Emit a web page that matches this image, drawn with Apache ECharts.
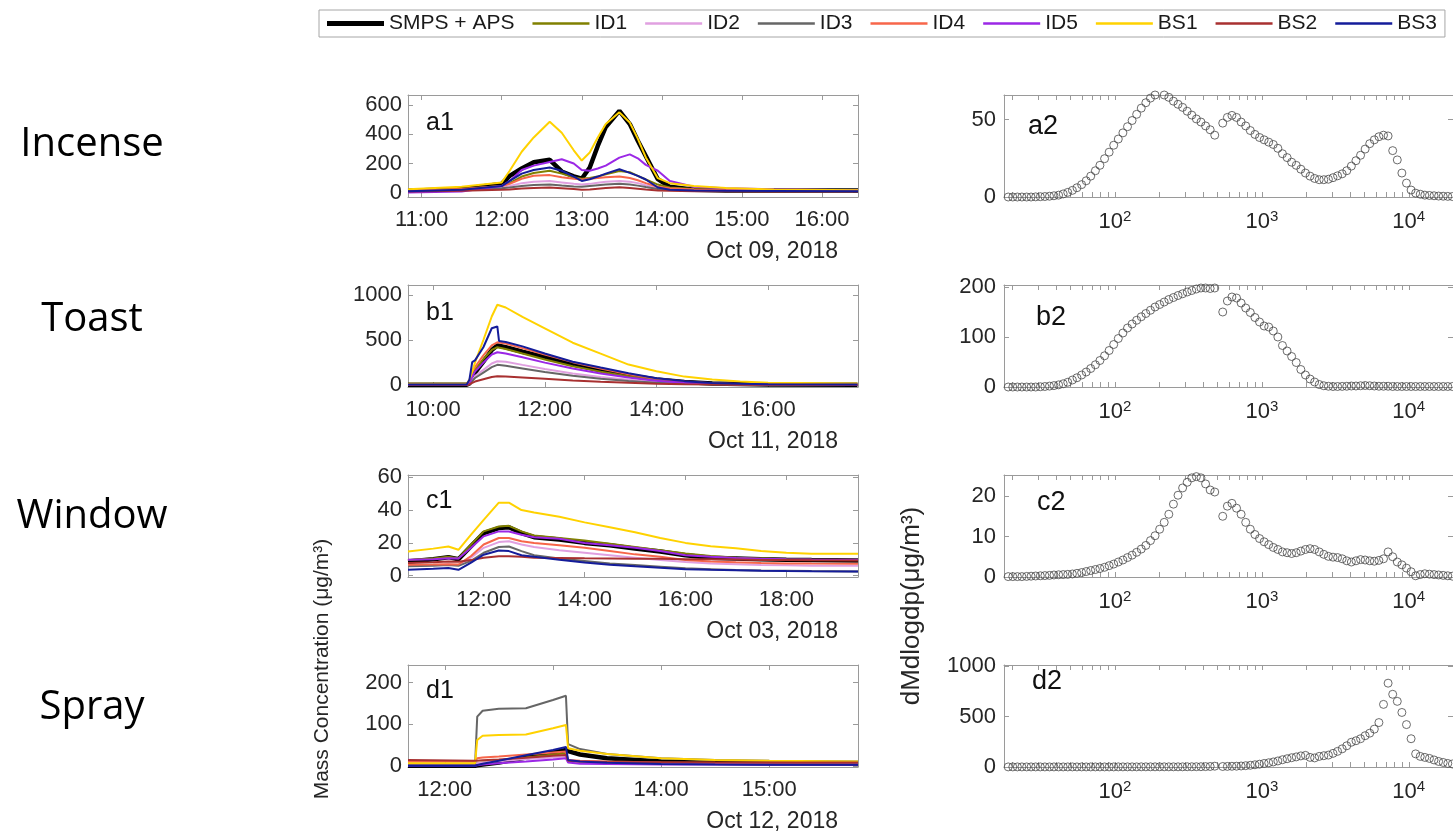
<!DOCTYPE html>
<html><head><meta charset="utf-8">
<script src="https://cdn.jsdelivr.net/npm/echarts@6/dist/echarts.min.js"></script>
<style>html,body{margin:0;padding:0;background:#fff;}#c{width:1453px;height:833px;}</style>
</head><body><div id="c"></div>
<script>
// ---------- names / colours / text ----------
const seriesNames = ['SMPS + APS','ID1','ID2','ID3','ID4','ID5','BS1','BS2','BS3'];
const seriesColors = ['#000000','#808000','#e0a0e0','#666666','#f7664a','#9b27e6','#ffd200','#a83030','#141c9a'];
const rowLabels = ['Incense','Toast','Window','Spray'];
const leftPanelLabels = ['a1','b1','c1','d1'];
const rightPanelLabels = ['a2','b2','c2','d2'];
const dateLabels = ['Oct 09, 2018','Oct 11, 2018','Oct 03, 2018','Oct 12, 2018'];
const yTitleLeft = 'Mass Concentration (\u03bcg/m\u00b3)';
const yTitleRight = 'dMdlogdp(\u03bcg/m\u00b3)';

// ---------- tick labels ----------
const a1_xticks = [11,12,13,14,15,16];
const b1_xticks = [10,12,14,16];
const c1_xticks = [12,14,16,18];
const d1_xticks = [12,13,14,15];
const a1_yticks = [0,200,400,600];
const b1_yticks = [0,500,1000];
const c1_yticks = [0,20,40,60];
const d1_yticks = [0,100,200];
const a2_yticks = [0,50];
const b2_yticks = [0,100,200];
const c2_yticks = [0,10,20];
const d2_yticks = [0,500,1000];
const logMajor = [100,1000,10000];
const logMinor = [20,30,40,50,60,70,80,90,200,300,400,500,600,700,800,900,2000,3000,4000,5000,6000,7000,8000,9000,20000];

// ---------- a1 : Incense (time in hours) ----------
const a1_time = [10.83,11.5,12.0,12.1,12.25,12.4,12.6,12.75,12.9,13.0,13.1,13.2,13.3,13.47,13.6,13.7,13.8,13.95,14.1,14.4,14.8,15.4,16.45];
const a1_smps = [12,25,60,115,165,208,225,145,112,95,172,320,450,560,470,355,250,92,40,20,15,15,14];
const a1_id1  = [15,25,45,65,110,135,150,130,105,95,100,110,125,148,140,115,90,55,35,25,20,18,15];
const a1_id2  = [12,20,35,45,65,75,80,70,60,55,60,68,75,80,75,65,50,30,22,18,15,13,12];
const a1_id3  = [10,18,30,35,45,52,55,48,42,40,45,50,55,60,55,48,38,25,18,14,12,11,10];
const a1_id4  = [15,25,45,60,95,115,120,105,95,90,95,100,105,110,100,85,65,40,30,22,18,16,15];
const a1_id5  = [0,8,45,80,155,185,210,229,200,155,150,165,185,240,262,235,190,150,80,40,30,23,16];
const a1_bs1  = [23,40,69,150,280,378,486,410,290,220,275,378,470,550,480,370,241,99,65,46,32,22,16];
const a1_bs2  = [8,12,20,22,28,32,35,30,24,20,22,27,32,36,32,27,22,15,12,10,9,8,8];
const a1_bs3  = [10,20,45,80,130,155,172,150,110,80,92,110,130,160,135,115,90,35,20,15,12,11,10];

// ---------- b1 : Toast ----------
const b1_time = [9.55,10.6,10.65,10.7,10.75,10.9,11.05,11.15,11.18,11.3,11.6,12.0,12.5,13.0,13.5,14.0,14.5,15.0,15.5,16.0,17.6];
const b1_smps = [5,5,20,80,140,260,390,440,445,420,370,310,230,165,108,62,35,20,12,8,5];
const b1_id1  = [5,5,25,110,170,290,390,420,420,400,350,285,210,150,100,58,32,18,11,8,5];
const b1_id2  = [5,5,15,60,100,170,240,265,270,260,225,180,130,90,60,35,20,12,8,6,5];
const b1_id3  = [5,5,10,45,80,140,200,225,225,215,185,145,105,72,47,28,16,10,7,5,5];
const b1_id4  = [5,5,40,150,200,330,440,475,478,460,410,340,255,185,120,70,40,22,14,10,6];
const b1_id5  = [5,5,20,90,150,250,340,365,365,350,310,250,185,130,85,50,28,16,10,7,5];
const b1_bs1  = [15,15,60,150,250,500,760,890,885,860,755,630,470,350,228,155,95,62,40,28,18];
const b1_bs2  = [5,5,8,25,40,65,90,98,98,95,85,70,52,38,26,16,10,7,5,5,5];
const b1_bs3  = [8,8,60,255,275,420,630,650,490,478,430,350,260,195,132,78,45,25,15,10,8];

// ---------- c1 : Window ----------
const c1_time = [10.5,11.0,11.3,11.5,11.75,12.0,12.3,12.5,12.75,13.0,13.5,14.0,14.5,15.0,15.5,16.0,16.5,17.0,17.5,18.0,18.5,19.42];
const c1_smps = [8.7,10,11.3,10,18,26,29,29.5,26,23.5,22,20,18.5,16.5,14.8,12.5,11,10.5,10,9.7,9.5,9.3];
const c1_id1  = [9.5,10.5,11.5,10.5,19,27,30,30.4,27,24.5,23,21.5,19.5,17.5,15.5,13.5,12,11,10.5,10,9.8,9.7];
const c1_id2  = [6,6.5,7,6.5,11,17,20.5,21,19,17.5,15.5,14,12.5,11,9.5,8.3,7.5,7,6.5,6.3,6.1,6];
const c1_id3  = [5.7,6,6.5,6,9,14,17.5,17.8,15,12.5,10.5,9,7.5,6.5,5.5,4.5,4,3.5,3.2,3,2.8,2.6];
const c1_id4  = [6.7,6.8,7,6.8,12,19,23,23,21,20,18.5,17,15,13,11.5,9.5,8.7,8.2,7.8,7.5,7.4,7.3];
const c1_id5  = [9.7,10,10.7,10.5,17,24,27,27,25,23.5,22.5,20,18.5,17,15,12.5,11.5,10.8,10.3,10,9.8,9.7];
const c1_bs1  = [14.8,16.5,17.8,15.8,25,34,44.5,44.5,40,38.5,36,32.5,29.5,26.5,23,20,18,16.8,15,14,13.4,13.4];
const c1_bs2  = [7.7,8.2,8.7,8.5,9.5,11,11.8,11.8,11.5,11,10.8,10.6,10.5,10.4,10.3,10,10,9.8,9.6,9.5,9.4,9.3];
const c1_bs3  = [3.6,4.2,4.7,3.6,8,12.8,15.4,15,12.5,11.5,9.7,8,6.7,5.7,4.8,4,3.6,3.3,3,2.8,2.7,2.6];

// ---------- d1 : Spray ----------
const d1_time = [11.66,12.28,12.3,12.35,12.5,12.75,13.0,13.12,13.14,13.25,13.5,14.0,14.5,15.0,15.82];
const d1_smps = [0,0,1,3,8,20,32,38,35,27,18,10,7,6,5];
const d1_id1  = [5,5,6,8,12,20,27,30,12,9,7,6,5,5,5];
const d1_id2  = [5,5,6,8,11,16,20,22,10,8,7,6,5.5,5,5];
const d1_id3  = [2,2,118,132,137,138,158,168,52,40,28,18,14,12,10];
const d1_id4  = [10,10,18,20,22,27,32,34,14,12,10,8,7,6.5,6];
const d1_id5  = [0,0,1,3,6,10,15,18,8,5,4,3,3,2.5,2.5];
const d1_bs1  = [6,6,62,72,74,75,90,98,42,36,28,18,14,12,10];
const d1_bs2  = [14,12,12,13,15,19,24,26,12,10,9,8.5,8,8,8];
const d1_bs3  = [0,0,2,5,12,25,38,45,14,10,7,4,3,2.5,2.4];

// ---------- size distributions (diameter in nm) ----------
const dpSMPS = [17.5,18.8,20.2,21.7,23.3,25.1,26.9,28.9,31.1,33.4,35.9,38.5,41.4,44.5,47.8,51.4,55.2,59.4,63.8,68.5,73.7,79.1,85.1,91.4,98.2,105.5,113.4,121.9,131.0,140.7,151.2,162.5,174.7,187.7,201.7,216.7,232.9,250.3,269.0,289.0,310.6,333.8,358.7,385.4,414.2,445.1,478.3];
const dpAPS = [542,583,626,673,723,777,835,898,965,1037,1114,1197,1286,1382,1486,1596,1715,1843,1981,2129,2288,2458,2642,2839,3051,3278,3523,3786,4068,4372,4698,5048,5425,5829,6264,6732,7234,7774,8354,8977,9647,10370,11140,11970,12860,13820,14860,15960,17150,18430,19810];

const a2_smps = [0,0,0,0,0,0,0,0.1,0.2,0.3,0.5,0.8,1.2,2,3,4.3,6,8,10.5,13.5,17,20.5,24.8,29,33.5,37.5,41.5,45.5,49.5,53.5,57.5,61,64,66,67,66,64.5,62,60,58,55.5,53,50.5,48.5,46,43.5,40];
const a2_aps = [47.8,51.5,52.8,51.5,48.5,46,43,40.5,38.5,37,35.5,34,31.5,28,25.5,22.5,20.5,18,15.5,13.5,12,11.2,11.2,11.5,12.5,13.7,15,17,20,23.5,27,31,34.5,37,39,40,39.5,30,24,15.5,9,4.5,2.5,1.8,1.2,1,0.8,0.6,0.5,0.4,0.3];
const b2_smps = [0,0,0,0,0,0,0,0,0.5,1,1.8,2.8,4.3,6.5,9.5,14,18.5,24,30,37,44.5,53,62.5,73,85,97,108,118,126,133.5,140.5,147,153.5,160,165,170,175,179,183,186.5,190,193,196,198,198,197,198];
const b2_aps = [150,172,180,178,168,158,149,139,130,122,120,112,100,83,72,61,49,35,24,16,10,5,2.5,1.5,1,1,1.2,1.5,2,2,2.5,3,2.5,2,1.5,1.5,1.5,1,1,1,1,1,1,1,1,1,1,1,1,1,1];
const c2_smps = [0.1,0.1,0.1,0.1,0.1,0.15,0.2,0.25,0.3,0.35,0.4,0.5,0.55,0.6,0.65,0.75,0.9,1.1,1.35,1.6,1.85,2.1,2.4,2.8,3.2,3.7,4.2,4.8,5.4,6.1,6.9,7.8,9,10.2,11.8,13.5,15.5,18,20.2,22,23.4,24.5,24.8,24.5,23,21.5,21];
const c2_aps = [15,17.5,18.2,17,15.5,13.5,11.8,10.5,9.5,8.7,8,7.3,6.8,6.2,6,5.8,6,6.4,6.8,7,6.8,6.2,5.6,5.1,4.9,4.8,4.5,4,3.7,4,4.3,4.2,4,3.9,4.1,4.5,6.2,5,3.7,3,2.2,1.3,0.3,0.6,0.8,0.7,0.6,0.5,0.4,0.3,0.2];
const d2_smps = [1,1,1,1,1,1,1,1,1,1,1,1,1,1,1,1,1,1,1,1,1,1,1,1,1,1.5,1.5,1.5,1.5,1.5,2,2,2,2,2,2,2,2,2,2,2.5,2.5,3,3,4,5,8];
const d2_aps = [5,6,7,8,10,13,17,22,28,35,42,50,60,72,82,92,100,110,115,95,90,105,112,118,135,155,180,210,245,260,280,310,335,375,440,620,830,720,650,540,420,280,130,105,95,85,70,55,45,35,30];

// ---------- build ----------
const FONT = 'Liberation Sans';
const AXC = '#9a9a9a', TXT = '#262626';
const grids = [], xAxes = [], yAxes = [], series = [];

function pad2(h){ return (h < 10 ? '0' : '') + h + ':00'; }
function plain(v){ return String(v); }
function logFmt(v){ return '10{s|' + Math.round(Math.log10(v)) + '}'; }
const supRich = {s:{fontSize:15, fontFamily:FONT, color:TXT, verticalAlign:'bottom', padding:[0,0,11,0]}};

function addAxes(gi, xType, xMin, xMax, xTicks, xLabels, xFmt, yMin, yMax, yTicks, yMargin){
  const base = {axisLine:{show:true,onZero:false,lineStyle:{color:AXC,width:1}}, splitLine:{show:false}};
  const xi = xAxes.length, yi = yAxes.length;
  const xt = {show:true,inside:true,length:5,customValues:xTicks,lineStyle:{color:AXC}};
  xAxes.push(Object.assign({type:xType, gridIndex:gi, min:xMin, max:xMax, position:'bottom',
    axisTick:xt,
    axisLabel:{show:true, customValues:xLabels, formatter:xFmt, margin:12, fontSize:22, fontFamily:FONT, color:TXT, rich:supRich}}, base));
  xAxes.push(Object.assign({type:xType, gridIndex:gi, min:xMin, max:xMax, position:'top',
    axisTick:xt, axisLabel:{show:false}}, base));
  const yt = {show:true,inside:true,length:5,customValues:yTicks,lineStyle:{color:AXC}};
  yAxes.push(Object.assign({type:'value', gridIndex:gi, min:yMin, max:yMax, position:'left',
    axisTick:yt,
    axisLabel:{show:true, customValues:yTicks, formatter:plain, margin:yMargin, fontSize:22, fontFamily:FONT, color:TXT}}, base));
  yAxes.push(Object.assign({type:'value', gridIndex:gi, min:yMin, max:yMax, position:'right',
    axisTick:yt, axisLabel:{show:false}}, base));
  return [xi, yi];
}

const leftPanels = [
  {time:a1_time, vals:[a1_smps,a1_id1,a1_id2,a1_id3,a1_id4,a1_id5,a1_bs1,a1_bs2,a1_bs3], xr:[10.83,16.45], yr:[-30,669], xt:a1_xticks, yt:a1_yticks},
  {time:b1_time, vals:[b1_smps,b1_id1,b1_id2,b1_id3,b1_id4,b1_id5,b1_bs1,b1_bs2,b1_bs3], xr:[9.55,17.61], yr:[-20,1109], xt:b1_xticks, yt:b1_yticks},
  {time:c1_time, vals:[c1_smps,c1_id1,c1_id2,c1_id3,c1_id4,c1_id5,c1_bs1,c1_bs2,c1_bs3], xr:[10.5,19.42], yr:[-0.8,61.4], xt:c1_xticks, yt:c1_yticks},
  {time:d1_time, vals:[d1_smps,d1_id1,d1_id2,d1_id3,d1_id4,d1_id5,d1_bs1,d1_bs2,d1_bs3], xr:[11.66,15.82], yr:[-3,242], xt:d1_xticks, yt:d1_yticks}
];
const rightPanels = [
  {smps:a2_smps, aps:a2_aps, yr:[0,66], yt:a2_yticks},
  {smps:b2_smps, aps:b2_aps, yr:[0,204], yt:b2_yticks},
  {smps:c2_smps, aps:c2_aps, yr:[0,25.2], yt:c2_yticks},
  {smps:d2_smps, aps:d2_aps, yr:[0,1010], yt:d2_yticks}
];
const rowTops = [95,285,475,665];
const H = 102;

leftPanels.forEach((p, r) => {
  const gi = grids.length;
  grids.push({left:408, top:rowTops[r], width:450, height:H});
  const [xi, yi] = addAxes(gi, 'value', p.xr[0], p.xr[1], p.xt, p.xt, pad2, p.yr[0], p.yr[1], p.yt, 6);
  p.vals.forEach((arr, k) => {
    series.push({type:'line', name:seriesNames[k], xAxisIndex:xi, yAxisIndex:yi,
      data: p.time.map((t, j) => [t, arr[j]]),
      showSymbol:false, symbol:'none', clip:true, animation:false,
      color: seriesColors[k],
      lineStyle:{color:seriesColors[k], width: k === 0 ? 4.5 : 2}});
  });
});

rightPanels.forEach((p, r) => {
  const gi = grids.length;
  grids.push({left:1004, top:rowTops[r], width:474, height:H});
  const [xi, yi] = addAxes(gi, 'log', 17.6, 20000, logMajor.concat(logMinor), logMajor, logFmt, p.yr[0], p.yr[1], p.yt, 8);
  xAxes[xi].logBase = 10; xAxes[xi+1].logBase = 10;
  const pts = dpSMPS.map((d, j) => [d, p.smps[j]]).concat(dpAPS.map((d, j) => [d, p.aps[j]]));
  series.push({type:'scatter', name:'dist' + r, xAxisIndex:xi, yAxisIndex:yi, data:pts,
    symbol:'circle', symbolSize:8, animation:false,
    itemStyle:{color:'rgba(0,0,0,0)', borderColor:'#474747', borderWidth:1}});
});

const graphic = [];
rowLabels.forEach((t, r) => {
  graphic.push({type:'text', x:92, y:[145,320,517,708][r],
    style:{text:t, fontFamily:'Open Sans', fontSize:40, fill:'#000', align:'center', verticalAlign:'middle'}});
});
leftPanelLabels.forEach((t, r) => {
  graphic.push({type:'text', x:426, y:[123,313,501,691][r],
    style:{text:t, fontFamily:FONT, fontSize:25, fill:'#111', align:'left', verticalAlign:'middle'}});
});
rightPanelLabels.forEach((t, r) => {
  graphic.push({type:'text', x:[1028,1036,1037,1032][r], y:[127,318,503,682][r],
    style:{text:t, fontFamily:FONT, fontSize:27, fill:'#111', align:'left', verticalAlign:'middle'}});
});
dateLabels.forEach((t, r) => {
  graphic.push({type:'text', x:838, y:rowTops[r] + H + 55,
    style:{text:t, fontFamily:FONT, fontSize:23, fill:TXT, align:'right', verticalAlign:'middle'}});
});
graphic.push({type:'text', x:322, y:669, rotation:Math.PI/2,
  style:{text:yTitleLeft, fontFamily:FONT, fontSize:21, fill:TXT, align:'center', verticalAlign:'middle'}});
graphic.push({type:'text', x:912, y:606, rotation:Math.PI/2,
  style:{text:yTitleRight, fontFamily:FONT, fontSize:26, fill:TXT, align:'center', verticalAlign:'middle'}});

const chart = echarts.init(document.getElementById('c'), null, {renderer:'canvas'});
chart.setOption({
  animation:false,
  backgroundColor:'#ffffff',
  legend:{left:319, top:10, width:1400, orient:'horizontal', padding:[3,8,3,8], itemGap:18, itemWidth:57, itemHeight:14,
    borderColor:'#a6a6a6', borderWidth:1, selectedMode:false,
    textStyle:{fontSize:21, fontFamily:FONT, color:'#1a1a1a'},
    data: seriesNames.map((n, i) => ({name:n, icon: i === 0 ? 'path://M0,0H57V5H0Z' : 'path://M0,0H57V2.4H0Z'}))},
  grid:grids, xAxis:xAxes, yAxis:yAxes, series:series, graphic:graphic
});
</script></body></html>
